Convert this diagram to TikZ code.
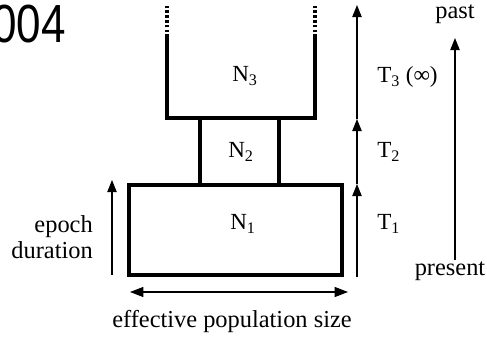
\documentclass[tikz,border=0pt]{standalone}
\usepackage{fontspec}
\setmainfont{Liberation Serif}
\newfontfamily\hdfont{Liberation Sans}
\usetikzlibrary{arrows.meta}
\begin{document}
\begin{tikzpicture}[x=0.75pt,y=-0.75pt,
  wall/.style={line width=2.3pt,line cap=butt},
  thinarrow/.style={line width=0.8pt,-{Triangle[length=9pt,width=7pt]}},
  lbl/.style={inner sep=0pt,font=\fontsize{17.3}{19}\selectfont},
  capt/.style={inner sep=0pt,font=\fontsize{18.3}{19}\selectfont},
  every node/.style={inner sep=0pt}]
\useasboundingbox (0,0) rectangle (487,340);
% clipped heading
\begin{scope}
\clip (0,0) rectangle (487,340);
\node[anchor=base east,font=\hdfont\fontsize{33}{36}\selectfont] (year) at (66,42) {\scalebox{1}[1.22]{2004}};
\end{scope}
% N1 box
\node[draw,wall,minimum width=213*0.75pt,minimum height=90*0.75pt] (n1box) at (235.5,230) {};
% N2 walls
\coordinate (n2lt) at (200,118);
\coordinate (n2rt) at (279,118);
\coordinate (n2lb) at (200,185);
\coordinate (n2rb) at (279,185);
\draw[wall] (n2lt) -- (n2lb);
\draw[wall] (n2rt) -- (n2rb);
% N3 open container
\coordinate (n3lt) at (167,37);
\coordinate (n3lb) at (167,118);
\coordinate (n3rb) at (315,118);
\coordinate (n3rt) at (315,37);
\coordinate (n3ltop) at (167,5);
\coordinate (n3rtop) at (315,5);
\draw[wall,line join=miter] (n3lt) -- (n3lb) -- (n3rb) -- (n3rt);
\draw[line width=2.3pt,dash pattern=on 2pt off 1.6pt] (n3lt) -- (n3ltop);
\draw[line width=2.3pt,dash pattern=on 2pt off 1.6pt] (n3rt) -- (n3rtop);
% labels in boxes
\node[lbl] (N3) at (245,76) {N\textsubscript{3}};
\node[lbl] (N2) at (241,152) {N\textsubscript{2}};
\node[lbl] (N1) at (243,224) {N\textsubscript{1}};
% time arrows
\coordinate (t0) at (357,277);
\coordinate (t1) at (357,184);
\coordinate (t2) at (357,119);
\coordinate (t3) at (357,5);
\draw[thinarrow] (t0) -- (t1);
\draw[thinarrow] (t1) -- (t2);
\draw[thinarrow] (t2) -- (t3);
\node[lbl,anchor=west] (T3) at (377,77) {T\textsubscript{3} (∞)};
\node[lbl,anchor=west] (T2) at (377,152) {T\textsubscript{2}};
\node[lbl,anchor=west] (T1) at (377,224) {T\textsubscript{1}};
% epoch duration
\coordinate (e0) at (112,275);
\coordinate (e1) at (112,180);
\draw[thinarrow] (e0) -- (e1);
\node[capt,anchor=east,align=right] (epoch) at (93,237) {epoch\\[1pt]duration};
% past/present
\node[capt] (past) at (455,14) {past};
\node[capt] (present) at (450,271) {present};
\coordinate (p0) at (455,260);
\coordinate (p1) at (455,38);
\draw[thinarrow] (p0) -- (p1);
% population size
\coordinate (s0) at (130,292);
\coordinate (s1) at (348,292);
\draw[line width=0.8pt,{Triangle[length=10pt,width=7.5pt]}-{Triangle[length=10pt,width=7.5pt]}] (s0) -- (s1);
\node[capt] (eps) at (232,322) {effective population size};
\end{tikzpicture}
\end{document}
